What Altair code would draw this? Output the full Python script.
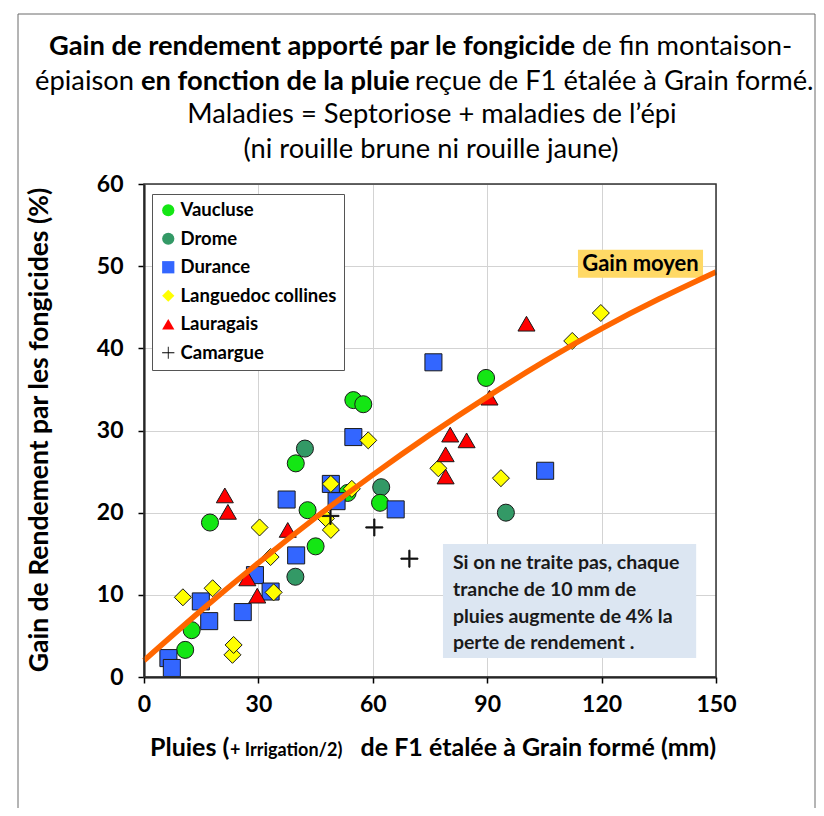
import altair as alt
import pandas as pd

# ---------------- data ----------------
series_order = ["Vaucluse", "Drome", "Durance", "Languedoc collines", "Lauragais", "Camargue"]
series_fill = ["#14E614", "#339966", "#3366FF", "#FFFF00", "#FF0000", "#000000"]
plus_path = "M-1,-0.07H1V0.07H-1Z M-0.07,-1H0.07V1H-0.07Z"
series_shape = ["circle", "circle", "square", "diamond", "triangle-up", plus_path]

vaucluse_x = [10.8, 12.5, 17.3, 39.8, 42.9, 45.0, 53.4, 54.9, 57.5, 61.9, 89.7]
vaucluse_y = [3.3, 5.7, 18.8, 26.0, 20.3, 15.9, 22.4, 33.7, 33.2, 21.2, 36.4]
drome_x = [39.7, 42.2, 62.2, 94.9]
drome_y = [12.2, 27.8, 23.1, 20.0]
durance_x = [6.4, 7.3, 14.9, 17.1, 25.9, 29.1, 33.2, 37.4, 39.9, 49.0, 50.5, 54.9, 66.0, 75.9, 105.2]
durance_y = [2.3, 1.1, 9.2, 6.8, 7.9, 12.4, 10.4, 21.6, 14.8, 23.5, 21.4, 29.2, 20.4, 38.3, 25.1]
languedoc_x = [10.2, 18.0, 23.2, 23.5, 30.3, 33.2, 34.0, 47.7, 49.0, 49.0, 54.5, 58.8, 77.2, 93.6, 112.3, 119.8]
languedoc_y = [9.7, 10.8, 2.7, 3.9, 18.2, 14.6, 10.3, 19.3, 23.5, 17.9, 22.9, 28.8, 25.4, 24.2, 40.9, 44.3]
lauragais_x = [21.2, 22.0, 27.1, 29.7, 37.7, 80.3, 84.6, 79.1, 79.1, 90.6, 100.3]
lauragais_y = [22.1, 20.1, 12.0, 9.9, 17.9, 29.5, 28.8, 27.1, 24.4, 34.0, 43.0]
camargue_x = [48.9, 60.4, 69.6]
camargue_y = [19.6, 18.2, 14.4]

# "Gain moyen" curve, read every 15 mm
trend_x = [0, 15, 30, 45, 60, 75, 90, 105, 120, 135, 150]
trend_y = [2.0, 8.1, 13.9, 19.4, 24.6, 29.5, 34.1, 38.4, 42.4, 46.0, 49.3]

x_ticks = [0, 30, 60, 90, 120, 150]
y_ticks = [0, 10, 20, 30, 40, 50, 60]

# draw order (Drome below Vaucluse, as in the picture)
draw = [("Drome", drome_x, drome_y), ("Vaucluse", vaucluse_x, vaucluse_y),
        ("Durance", durance_x, durance_y), ("Languedoc collines", languedoc_x, languedoc_y),
        ("Lauragais", lauragais_x, lauragais_y), ("Camargue", camargue_x, camargue_y)]
rows = []
for name, xs, ys in draw:
    for a, b in zip(xs, ys):
        rows.append({"serie": name, "x": a, "y": b})
df = pd.DataFrame(rows)
trend = pd.DataFrame({"x": trend_x, "y": trend_y})

FONT = "Lato"
W, H = 572, 493

xscale = alt.Scale(domain=[0, 150], nice=False, zero=False)
yscale = alt.Scale(domain=[0, 60], nice=False, zero=False)

xaxis = alt.Axis(values=x_ticks, title=None, labelFont=FONT, labelFontWeight="bold", labelFontSize=23,
                 labelColor="black", tickColor="black", tickSize=6, tickWidth=1.5, domainColor="black",
                 domainWidth=2, gridColor="#D3D3D3", gridWidth=1, labelPadding=10, labelFlush=False)
yaxis = alt.Axis(values=y_ticks, title=None, labelFont=FONT, labelFontWeight="bold", labelFontSize=23,
                 labelColor="black", tickColor="black", tickSize=6, tickWidth=1.5, domainColor="black",
                 domainWidth=2, gridColor="#D3D3D3", gridWidth=1, labelPadding=15, labelFlush=False)

leg = alt.Legend(title=None, orient="none", legendX=8, legendY=10, fillColor="white", strokeColor="#555555",
                 padding=7, labelFont=FONT, labelFontWeight="bold", labelFontSize=18.5, labelColor="black",
                 symbolSize=150, rowPadding=9.5, labelOffset=3, symbolStrokeColor="black",
                 symbolStrokeWidth=1, cornerRadius=0)

X = alt.X("x:Q", scale=xscale, axis=xaxis)
Y = alt.Y("y:Q", scale=yscale, axis=yaxis)

points = alt.Chart(df).mark_point(filled=True, size=290, stroke="#1a1a1a", strokeWidth=1, opacity=1).encode(
    x=X, y=Y,
    fill=alt.Fill("serie:N", scale=alt.Scale(domain=series_order, range=series_fill), legend=leg),
    shape=alt.Shape("serie:N", scale=alt.Scale(domain=series_order, range=series_shape), legend=leg),
)

line = alt.Chart(trend).mark_line(color="#FF6600", strokeWidth=5.5, interpolate="natural").encode(x=X, y=Y)

# annotation boxes (data coordinates)
gain_box = alt.Chart(pd.DataFrame({"x": [113.8], "x2": [146.6], "y": [48.6], "y2": [52.0]})).mark_rect(
    fill="#FFD966").encode(x=X, x2="x2:Q", y=Y, y2="y2:Q")
note_box = alt.Chart(pd.DataFrame({"x": [78.4], "x2": [144.8], "y": [2.3], "y2": [16.2]})).mark_rect(
    fill="#DCE6F2").encode(x=X, x2="x2:Q", y=Y, y2="y2:Q")

gain_txt = alt.Chart(pd.DataFrame({"x": [130.2], "y": [50.3], "t": ["Gain  moyen"]})).mark_text(
    font=FONT, fontWeight="bold", fontSize=22, color="black", align="center", baseline="middle"
).encode(x=X, y=Y, text="t:N")

note_lines = ["Si on ne traite pas, chaque", "tranche de 10 mm de",
              "pluies augmente de 4% la", "perte de rendement ."]
note_df = pd.DataFrame({"x": [81.0] * 4, "y": [13.87, 10.59, 7.30, 4.14], "t": note_lines})
note_txt = alt.Chart(note_df).mark_text(
    font=FONT, fontWeight="bold", fontSize=19.5, color="#1a1a1a", align="left", baseline="middle"
).encode(x=X, y=Y, text="t:N")

one = pd.DataFrame({"a": [0]})


def txt(s, x, y, size, weight="normal", align="center", baseline="middle", angle=0):
    return alt.Chart(one).mark_text(
        text=s, font=FONT, fontSize=size, fontWeight=weight, color="black",
        align=align, baseline=baseline, angle=angle
    ).encode(x=alt.value(x), y=alt.value(y))


# plot origin on page is (144, 184)
TS = 27.3
texts = [
    txt("Gain de rendement apporté par le fongicide", 431, -137, TS, "bold", "right"),
    txt("de fin montaison-", 438, -137, TS, "normal", "left"),
    txt("épiaison", -10, -102, TS, "normal", "right"),
    txt("en fonction de la pluie", -3, -102, TS, "bold", "left"),
    txt("reçue de F1 étalée à Grain formé.", 271, -102, TS, "normal", "left"),
    txt("Maladies = Septoriose + maladies de l\u2019épi", 288, -69, TS),
    txt("(ni rouille brune ni rouille jaune)", 287, -34, TS),
    txt("Gain de Rendement par les fongicides (%)", -104, 246, 26.5, "bold", "center", "middle", 270),
    txt("Pluies (", 6, 572, 25, "bold", "left", "alphabetic"),
    txt("+ Irrigation/2)", 86, 572, 18, "bold", "left", "alphabetic"),
    txt("de F1 étalée à Grain formé (mm)", 572, 572, 25, "bold", "right", "alphabetic"),
]

frame = alt.Chart(one).mark_rect(filled=False, stroke="#333333", strokeWidth=1.5).encode(
    x=alt.value(0), x2=alt.value(W), y=alt.value(0), y2=alt.value(H)
)
border = alt.Chart(one).mark_rect(filled=False, stroke="#6b6b6b", strokeWidth=1).encode(
    x=alt.value(-126), x2=alt.value(671), y=alt.value(-170), y2=alt.value(650)
)

chart = alt.layer(gain_box, note_box, points, line, gain_txt, note_txt, frame, *texts, border).properties(
    width=W, height=H,
    autosize=alt.AutoSizeParams(type="none"),
    padding={"left": 136, "top": 176, "right": 100, "bottom": 131},
).configure_view(fill="#F2F2F2", stroke="#333333", strokeWidth=1.5).configure(background="white")

chart.save("out.html", embed_options={"renderer": "svg", "actions": False})
